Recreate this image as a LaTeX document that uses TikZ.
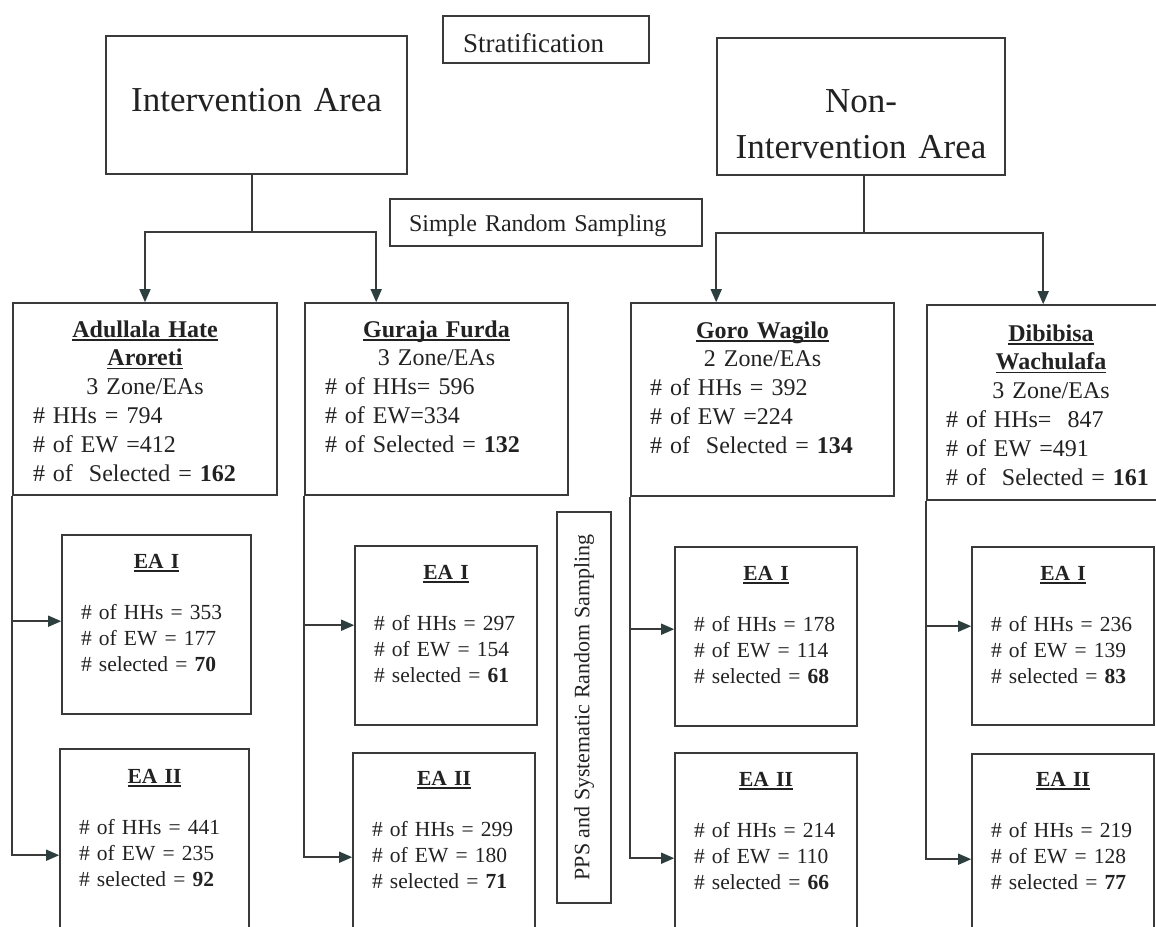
\documentclass[tikz,border=0pt]{standalone}
\usepackage{fontspec}
\setmainfont{Liberation Serif}
\usetikzlibrary{arrows.meta}
\definecolor{linegray}{HTML}{3A3A3A}
\definecolor{tipdark}{HTML}{2C3E3E}
\definecolor{inkgray}{HTML}{222222}
\newsavebox{\ulsave}
\newcommand{\ulbox}[1]{\sbox{\ulsave}{#1}\rlap{\rule[-3.5pt]{\wd\ulsave}{1.6pt}}\usebox{\ulsave}}
\newcommand{\ctr}[1]{\makebox[\linewidth]{#1}}
\newcommand{\ttl}[1]{\ctr{\ulbox{\textbf{#1}}}}
\newcommand{\eatext}[4]{\ttl{#1}\\[25pt]\mbox{\# of HHs = #2}\\\mbox{\# of EW = #3}\\\mbox{\# selected = \textbf{#4}}}
\begin{document}
\begin{tikzpicture}[x=1pt, y=-1pt,
    box/.style={draw=linegray, line width=1.6pt, inner sep=0pt, anchor=base, align=left, text=inkgray},
    areabox/.style={box, align=center, font=\fontsize{35}{46}\selectfont},
    regbox/.style={box, font=\fontsize{24}{28.8}\selectfont},
    eabox/.style={box, minimum width=182pt, text width=144pt, text height=33pt, text depth=146pt, font=\fontsize{21.5}{26}\selectfont},
    conn/.style={draw=linegray, line width=1.5pt},
    arr/.style={conn, -{Triangle[length=13pt, width=11pt, color=tipdark]}}]
            \path[use as bounding box, fill=white] (0,0) rectangle (1156,926);
            \node[box, font=\fontsize{27}{32}\selectfont, minimum width=206pt, text width=166pt, text height=36pt, text depth=11pt] (strat) at (546,52) {Stratification};
            \node[areabox, minimum width=301pt, text width=261pt, text height=75pt, text depth=63pt] (ia) at (256.5,111) {Intervention Area};
            \node[areabox, minimum width=288pt, text width=260pt, text height=74pt, text depth=63pt] (na) at (861,112) {Non-\\Intervention Area};
            \node[box, font=\fontsize{24}{28}\selectfont, minimum width=312pt, text width=274pt, text height=32pt, text depth=15pt] (srs) at (546,231) {Simple Random Sampling};
            \node[box, rotate=90, anchor=center, align=center, font=\fontsize{22}{26}\selectfont, minimum width=391pt, minimum height=54pt] (pps) at (584,707.5) {PPS and Systematic Random Sampling};
            \node[regbox, minimum width=264pt, text width=224pt, text height=34pt, text depth=158pt] (ad) at (145,337)
                {\ttl{Adullala Hate}\\\ttl{Aroreti}\\\ctr{3 Zone/EAs}\\\mbox{\# HHs = 794}\\\mbox{\# of EW =412}\\\mbox{\# of\ \ Selected = \textbf{162}}};
            \node[regbox, minimum width=263pt, text width=223pt, text height=34pt, text depth=158pt] (gf) at (436.5,337)
                {\ttl{Guraja Furda}\\\ctr{3 Zone/EAs}\\\mbox{\# of HHs= 596}\\\mbox{\# of EW=334}\\\mbox{\# of Selected = \textbf{132}}};
            \node[regbox, minimum width=263pt, text width=225pt, text height=35pt, text depth=158pt] (gw) at (762.5,338)
                {\ttl{Goro Wagilo}\\\ctr{2 Zone/EAs}\\\mbox{\# of HHs = 392}\\\mbox{\# of EW =224}\\\mbox{\# of\ \ Selected = \textbf{134}}};
            \node[regbox, minimum width=248pt, text width=210pt, text height=36pt, text depth=159pt] (dw) at (1051,341)
                {\ttl{Dibibisa}\\\ttl{Wachulafa}\\\ctr{3 Zone/EAs}\\\mbox{\# of HHs=\ \ 847}\\\mbox{\# of EW =491}\\\mbox{\# of\ \ Selected = \textbf{161}}};
            \node[eabox, minimum width=189pt, text width=151pt] (adI) at (156.5,568) {\eatext{EA I}{353}{177}{70}};
            \node[eabox, minimum width=189pt, text width=151pt, text height=34pt, text depth=152pt] (adII) at (154.5,783) {\eatext{EA II}{441}{235}{92}};
            \node[eabox] (gfI) at (446,579) {\eatext{EA I}{297}{154}{61}};
            \node[eabox, text height=32pt, text depth=150pt] (gfII) at (444,785) {\eatext{EA II}{299}{180}{71}};
            \node[eabox] (gwI) at (766,580) {\eatext{EA I}{178}{114}{68}};
            \node[eabox, text depth=150pt] (gwII) at (766,786) {\eatext{EA II}{214}{110}{66}};
            \node[eabox, text depth=145pt] (dwI) at (1063,580) {\eatext{EA I}{236}{139}{83}};
            \node[eabox, text height=32pt, text depth=150pt] (dwII) at (1063,786) {\eatext{EA II}{219}{128}{77}};
            \coordinate (iasplit) at (252,232);
            \coordinate (nasplit) at (864,233);
            \draw[conn] (iasplit |- ia.south) -- (iasplit);
            \draw[arr] (iasplit) -| (ad.north);
            \draw[arr] (iasplit) -| ([xshift=72pt]gf.north west);
            \draw[conn] (nasplit |- na.south) -- (nasplit);
            \draw[arr] (nasplit) -| ([xshift=86pt]gw.north west);
            \draw[arr] (nasplit) -| ([xshift=117pt]dw.north west);
            \draw[arr] (ad.south west) |- ([yshift=-87pt]adI.north west);
            \draw[arr] (ad.south west) |- ([yshift=-107pt]adII.north west);
            \draw[arr] (gf.south west) |- ([yshift=-80pt]gfI.north west);
            \draw[arr] (gf.south west) |- ([yshift=-105pt]gfII.north west);
            \draw[arr] (gw.south west) |- ([yshift=-83pt]gwI.north west);
            \draw[arr] (gw.south west) |- ([yshift=-106pt]gwII.north west);
            \draw[arr] (dw.south west) |- ([yshift=-80pt]dwI.north west);
            \draw[arr] (dw.south west) |- ([yshift=-106pt]dwII.north west);
        \end{tikzpicture}
\end{document}
